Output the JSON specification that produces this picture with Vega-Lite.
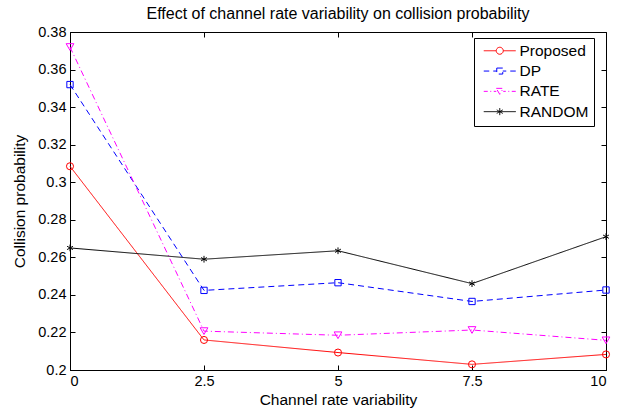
{
  "$schema": "https://vega.github.io/schema/vega-lite/v6.json",
  "autosize": "none",
  "width": 536,
  "height": 338,
  "padding": {"left": 70, "top": 32, "right": 13, "bottom": 44},
  "background": "white",
  "title": {
    "text": "Effect of channel rate variability on collision probability",
    "fontSize": 16,
    "fontWeight": "normal",
    "font": "Liberation Sans",
    "color": "black",
    "offset": 2.5,
    "anchor": "middle"
  },
  "data": {
    "values": [
      {"series": "Proposed", "x": 0, "y": 0.3085},
      {"series": "Proposed", "x": 2.5, "y": 0.216},
      {"series": "Proposed", "x": 5, "y": 0.2093},
      {"series": "Proposed", "x": 7.5, "y": 0.203},
      {"series": "Proposed", "x": 10, "y": 0.2083},
      {"series": "DP", "x": 0, "y": 0.352},
      {"series": "DP", "x": 2.5, "y": 0.2424},
      {"series": "DP", "x": 5, "y": 0.2465},
      {"series": "DP", "x": 7.5, "y": 0.2365},
      {"series": "DP", "x": 10, "y": 0.2426},
      {"series": "RATE", "x": 0, "y": 0.372},
      {"series": "RATE", "x": 2.5, "y": 0.2207},
      {"series": "RATE", "x": 5, "y": 0.2185},
      {"series": "RATE", "x": 7.5, "y": 0.2213},
      {"series": "RATE", "x": 10, "y": 0.2158},
      {"series": "RANDOM", "x": 0, "y": 0.265},
      {"series": "RANDOM", "x": 2.5, "y": 0.259},
      {"series": "RANDOM", "x": 5, "y": 0.2635},
      {"series": "RANDOM", "x": 7.5, "y": 0.246},
      {"series": "RANDOM", "x": 10, "y": 0.271}
    ]
  },
  "layer": [
    {
      "mark": {"type": "line", "strokeWidth": 1},
      "encoding": {
        "x": {
          "field": "x", "type": "quantitative",
          "scale": {"domain": [0, 10], "nice": false, "zero": false},
          "axis": {"orient": "bottom", "values": [0, 2.5, 5, 7.5, 10], "labelExpr": "datum.value + ''", "title": "Channel rate variability", "titlePadding": 5, "labelPadding": 9}
        },
        "y": {
          "field": "y", "type": "quantitative",
          "scale": {"domain": [0.2, 0.38], "nice": false, "zero": false},
          "axis": {"orient": "left", "values": [0.2, 0.22, 0.24, 0.26, 0.28, 0.3, 0.32, 0.34, 0.36, 0.38], "labelExpr": "format(datum.value, '.2~f')", "title": "Collision probability", "titlePadding": 10, "labelPadding": 9}
        },
        "color": {
          "field": "series", "type": "nominal",
          "scale": {"domain": ["Proposed", "DP", "RATE", "RANDOM"], "range": ["#FF0000", "#0000FF", "#FF00FF", "#000000"]},
          "legend": {
            "title": null,
            "orient": "none",
            "legendX": 404,
            "legendY": 6,
            "padding": 5,
            "strokeColor": "black",
            "fillColor": "white",
            "labelFontSize": 15.5,
            "labelFont": "Liberation Sans",
            "labelColor": "black",
            "labelOffset": 25,
            "rowPadding": 3.3,
            "symbolSize": 100,
            "symbolStrokeWidth": 1,
            "encode": {
              "symbols": {
                "update": {
                  "fill": {"value": "transparent"},
                  "shape": {"signal": "datum.value === 'Proposed' ? 'M-0.6,0H1.9M3.3,0H5.8M3.3,0A0.7,0.7 0 1,1 1.9,0A0.7,0.7 0 1,1 3.3,0Z' : datum.value === 'DP' ? 'M-0.6,0H0.5M1.3,0H2.0M3.2,0H3.9M4.7,0H5.8M2.0,-0.6H3.2V0.6H2.0Z' : datum.value === 'RATE' ? 'M-0.6,0H0.2M0.7,0H0.9M1.4,0H1.9M3.3,0H3.8M4.3,0H4.5M5.0,0H5.8M1.9,-0.6H3.3L2.6,0.6Z' : 'M-0.6,0H5.8M2.6,-0.7V0.7M2.0,-0.35L3.2,0.35M2.0,0.35L3.2,-0.35'"},
                  "strokeDash": {"value": [1, 0]}
                }
              }
            }
          }
        },
        "strokeDash": {
          "field": "series", "type": "nominal",
          "scale": {"domain": ["Proposed", "DP", "RATE", "RANDOM"], "range": [[1, 0], [6, 4], [6, 3, 1, 3], [1, 0]]},
          "legend": null
        }
      }
    },
    {
      "transform": [{"filter": "datum.series === 'Proposed'"}],
      "mark": {"type": "point", "shape": "circle", "filled": false, "strokeWidth": 1, "size": 50, "opacity": 1},
      "encoding": {
        "x": {"field": "x", "type": "quantitative", "axis": null},
        "y": {"field": "y", "type": "quantitative", "axis": null},
        "color": {"field": "series", "type": "nominal", "legend": null}
      }
    },
    {
      "transform": [{"filter": "datum.series === 'DP'"}],
      "mark": {"type": "point", "shape": "square", "filled": false, "strokeWidth": 1, "size": 40, "opacity": 1},
      "encoding": {
        "x": {"field": "x", "type": "quantitative", "axis": null},
        "y": {"field": "y", "type": "quantitative", "axis": null},
        "color": {"field": "series", "type": "nominal", "legend": null}
      }
    },
    {
      "transform": [{"filter": "datum.series === 'RATE'"}],
      "mark": {"type": "point", "shape": "triangle-down", "filled": false, "strokeWidth": 1, "size": 60, "opacity": 1},
      "encoding": {
        "x": {"field": "x", "type": "quantitative", "axis": null},
        "y": {"field": "y", "type": "quantitative", "axis": null},
        "color": {"field": "series", "type": "nominal", "legend": null}
      }
    },
    {
      "transform": [{"filter": "datum.series === 'RANDOM'"}],
      "mark": {"type": "point", "shape": "M0,-1V1M-0.87,-0.5L0.87,0.5M-0.87,0.5L0.87,-0.5", "filled": false, "strokeWidth": 1, "size": 45, "opacity": 1},
      "encoding": {
        "x": {"field": "x", "type": "quantitative", "axis": null},
        "y": {"field": "y", "type": "quantitative", "axis": null},
        "color": {"field": "series", "type": "nominal", "legend": null}
      }
    },
    {
      "mark": {"type": "point", "opacity": 0},
      "encoding": {
        "x": {"field": "x", "type": "quantitative", "axis": {"orient": "top", "values": [0, 2.5, 5, 7.5, 10], "labels": false, "domain": false, "title": null}},
        "y": {"field": "y", "type": "quantitative", "axis": {"orient": "right", "values": [0.2, 0.22, 0.24, 0.26, 0.28, 0.3, 0.32, 0.34, 0.36, 0.38], "labels": false, "domain": false, "title": null}}
      }
    }
  ],
  "resolve": {"axis": {"x": "independent", "y": "independent"}},
  "config": {
    "view": {"stroke": "black", "strokeWidth": 1},
    "axis": {
      "grid": false,
      "domainColor": "black",
      "tickColor": "black",
      "tickSize": -5,
      "labelColor": "black",
      "labelFontSize": 14.5,
      "labelFont": "Liberation Sans",
      "titleColor": "black",
      "titleFontSize": 15.5,
      "titleFont": "Liberation Sans",
      "titleFontWeight": "normal"
    }
  }
}
